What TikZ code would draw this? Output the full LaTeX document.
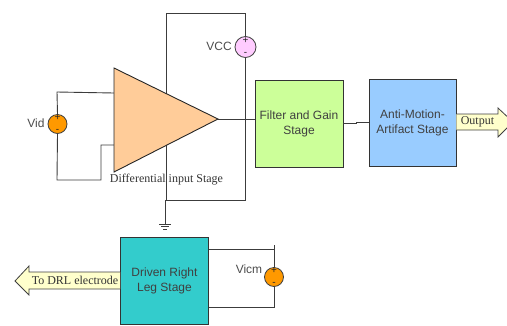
\documentclass[tikz,border=0pt]{standalone}
\usepackage{fontspec}
\setmainfont{Liberation Sans}
\newfontfamily\serifface{Liberation Serif}
\definecolor{wire}{HTML}{3C3C3C}
\definecolor{opampfill}{HTML}{FFCC99}
\definecolor{filterfill}{HTML}{CCFF99}
\definecolor{motionfill}{HTML}{99CCFF}
\definecolor{drivenfill}{HTML}{33CCCC}
\definecolor{arrowfill}{HTML}{FFFFCC}
\definecolor{vccfill}{HTML}{FFCCFF}
\definecolor{srcfill}{HTML}{FF9900}
\tikzset{
  wireline/.style={draw=wire,line width=0.9pt},
  stagebox/.style={draw=black!80,line width=0.9pt,minimum width=88pt,minimum height=87pt,align=center,inner sep=0pt,font=\fontsize{12}{15}\selectfont,text=black!75},
  source/.style={circle,draw=black!75,line width=0.8pt,minimum size=#1,inner sep=0pt},
  sign/.style={inner sep=0pt,font=\fontsize{10}{10}\selectfont,text=black!85},
  sanslabel/.style={inner sep=0pt,font=\fontsize{12}{14}\selectfont,text=black!70},
  seriflabel/.style={inner sep=0pt,font=\serifface\fontsize{12}{14}\selectfont,text=black!80},
  blockarrow/.style={draw=black!75,line width=0.8pt,fill=arrowfill},
}
\begin{document}
\begin{tikzpicture}[x=1pt,y=-1pt]
    \useasboundingbox (0,0) rectangle (507,325);
    \coordinate (t1) at (114,68);
    \coordinate (t2) at (114,172);
    \coordinate (tip) at (218,119);
    \coordinate (in1) at (114,93);
    \coordinate (in2) at (114,145);
    \coordinate (vidtop) at (57,92);
    \coordinate (vidbot) at (57,180);
    \coordinate (jog) at (101,180);
    \coordinate (jogtop) at (101,145);
    \coordinate (railtl) at (166,13);
    \coordinate (railtr) at (245.5,13);
    \coordinate (railbr) at (245.5,200);
    \coordinate (railbl) at (165,200);
    \coordinate (gnd) at (165,224);
    \coordinate (g1a) at (159,224);
    \coordinate (g1b) at (171,224);
    \coordinate (g2a) at (161,226.5);
    \coordinate (g2b) at (169,226.5);
    \coordinate (g3a) at (163,229);
    \coordinate (g3b) at (167,229);
    \coordinate (cmtop) at (274,245);
    \coordinate (cmup) at (274,249);
    \coordinate (cmdown) at (274,307.5);
    % stages
    \node[stagebox,fill=filterfill] (filter) at (299,123.5) {Filter and Gain\\Stage};
    \node[stagebox,fill=motionfill,minimum width=87pt] (motion) at (412.5,122.5) {Anti-Motion-\\Artifact Stage};
    \node[stagebox,fill=drivenfill] (driven) at (164.5,280.5) {Driven Right\\Leg Stage};
    % sources
    \node[source=19pt,fill=srcfill] (vid) at (57.5,124) {};
    \node[source=21pt,fill=vccfill] (vcc) at (245.5,47) {};
    \node[source=19pt,fill=srcfill] (vicm) at (274,277) {};
    % rails and inputs
    \draw[wireline] (railbl)--(railbr)--(vcc.south);
    \draw[wireline] (vcc.north)--(railtr)--(railtl)--(166,200);
    \draw[wireline] (railbl)--(gnd);
    \draw[wireline] (g1a)--(g1b);
    \draw[wireline] (g2a)--(g2b);
    \draw[wireline] (g3a)--(g3b);
    \draw[wireline] (vid.north)--(vidtop)--(in1);
    \draw[wireline] (vid.south)--(vidbot)--(jog)--(jogtop)--(in2);
    \draw[wireline] (tip)--(filter.west |- tip);
    \draw[wireline] (filter.east |- 0,123)--(356,123)--(356,122)--(motion.west |- 0,122);
    \draw[wireline] (vicm.north)--(cmtop);
    \draw[wireline] (driven.east |- cmup)--(cmup);
    \draw[wireline] (vicm.south)--(cmdown)--(driven.east |- cmdown);
    % amplifier
    \draw[draw=black!85,line width=0.9pt,fill=opampfill] (t1)--(tip)--(t2)--cycle;
    % block arrows
    \draw[blockarrow] (motion.east |- 0,114)--(498,114)--(498,108)--(513,122)--(498,137)--(498,130)--(motion.east |- 0,130);
    \draw[blockarrow] (driven.west |- 0,272)--(29,272)--(29,266)--(15,281)--(29,295)--(29,289)--(driven.west |- 0,289);
    % signs
    \node[sign] (vidp) at (57.5,118) {+};
    \node[sign] (vidm) at (57.5,130.5) {-};
    \node[sign] (vccp) at (245.5,41) {+};
    \node[sign] (vccm) at (245.5,54) {-};
    \node[sign] (vicmp) at (274,271) {+};
    \node[sign] (vicmm) at (274,283.5) {-};
    % labels
    \node[sanslabel] (vidlabel) at (36,123) {Vid};
    \node[sanslabel] (vcclabel) at (219,46) {VCC};
    \node[sanslabel] (vicmlabel) at (249,269) {Vicm};
    \node[seriflabel] (difflabel) at (166.5,180) {Differential input Stage};
    \node[seriflabel] (outlabel) at (477.5,122) {Output};
    \node[seriflabel] (drllabel) at (75,280.5) {To DRL electrode};
\end{tikzpicture}
\end{document}
